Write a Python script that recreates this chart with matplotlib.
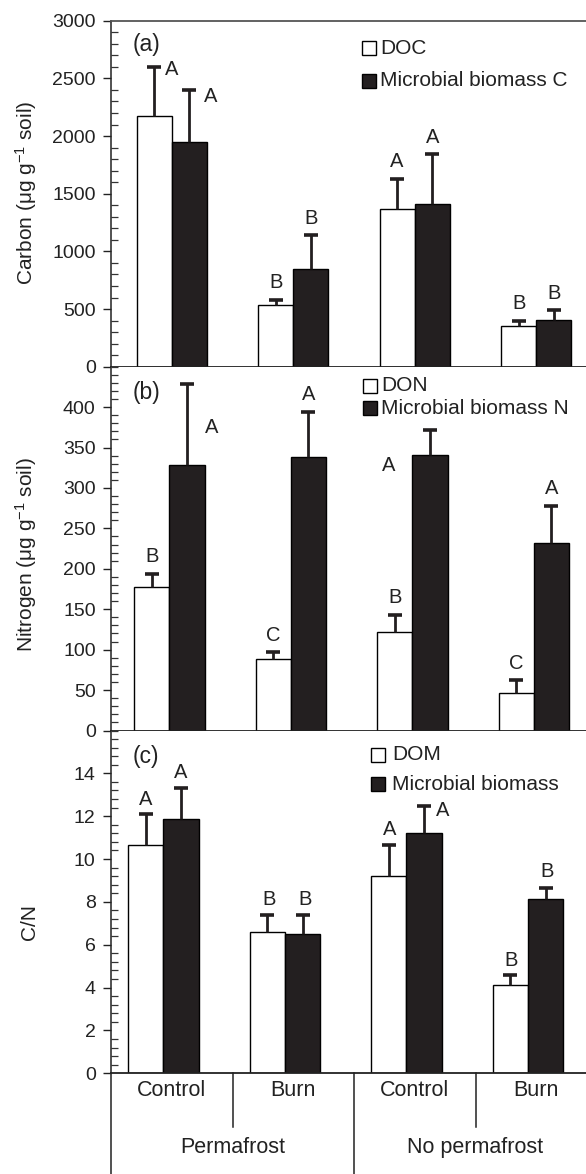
import matplotlib
matplotlib.use("Agg")
import matplotlib.pyplot as plt
import numpy as np
from matplotlib.ticker import MultipleLocator
import matplotlib.transforms as mtransforms

plt.rcParams['font.family'] = ['Liberation Sans', 'DejaVu Sans']
plt.rcParams['mathtext.fontset'] = 'custom'
plt.rcParams['mathtext.rm'] = 'Liberation Sans'
plt.rcParams['mathtext.it'] = 'Liberation Sans:italic'

# ---------------- data ----------------
treatments = ["Control", "Burn", "Control", "Burn"]
sites = ["Permafrost", "No permafrost"]

# (a) Carbon
doc = [2175, 535, 1365, 355]
doc_err_top = [2595, 580, 1630, 400]
mbc = [1950, 850, 1410, 405]
mbc_err_top = [2395, 1140, 1840, 488]
doc_letters = ["A", "B", "A", "B"]
mbc_letters = ["A", "B", "A", "B"]

# (b) Nitrogen
don = [178, 88, 122, 47]
don_err_top = [194, 97, 143, 62]
mbn = [328, 338, 341, 232]
mbn_err_top = [428, 394, 372, 278]
don_letters = ["B", "C", "B", "C"]
mbn_letters = ["A", "A", "A", "A"]

# (c) C/N
dom_cn = [10.65, 6.61, 9.2, 4.12]
dom_cn_err_top = [12.1, 7.38, 10.65, 4.57]
mb_cn = [11.85, 6.5, 11.22, 8.15]
mb_cn_err_top = [13.3, 7.38, 12.48, 8.65]
dom_letters = ["A", "B", "A", "B"]
mb_letters = ["A", "B", "A", "B"]

# ---------------- layout helpers ----------------
W, H = 586, 1174
fig = plt.figure(figsize=(W / 100, H / 100), dpi=100)

def fx(px):
    return px / W

def fy(py):
    return 1 - py / H

left_px, right_px = 111, 597
ax_a = fig.add_axes([fx(left_px), fy(366.7), fx(right_px - left_px), (366.7 - 20.7) / H])
ax_b = fig.add_axes([fx(left_px), fy(730.5), fx(right_px - left_px), (730.5 - 366.7) / H])
ax_c = fig.add_axes([fx(left_px), fy(1073.3), fx(right_px - left_px), (1073.3 - 730.5) / H])

DARK = "#231f20"
BW = 0.29
TICK_FS = 14
LET_FS = 14.5

x = np.arange(len(treatments)) + 0.5

def draw_panel(ax, v1, e1, v2, e2, l1, l2, shift, off1, off2):
    xs1 = x + shift - BW / 2
    xs2 = x + shift + BW / 2
    ax.bar(xs1, v1, width=BW, color="white", edgecolor="black", linewidth=1.0, zorder=2)
    ax.bar(xs2, v2, width=BW, color=DARK, edgecolor="black", linewidth=1.0, zorder=2)
    for xs, v, e in ((xs1, v1, e1), (xs2, v2, e2)):
        v = np.asarray(v, float)
        up = np.asarray(e, float) - v
        eb = ax.errorbar(xs, v, yerr=[np.zeros_like(up), up], fmt="none",
                         ecolor=DARK, elinewidth=2.0, capsize=5, capthick=2.6, zorder=3)
        caps = eb.lines[1]
        if len(caps) >= 2:
            caps[0].set_visible(False)
    for xs, e, labs, offs in ((xs1, e1, l1, off1), (xs2, e2, l2, off2)):
        for xi, ei, lab, (dx, dy) in zip(xs, e, labs, offs):
            ax.annotate(lab, xy=(xi, ei), xytext=(dx, dy), textcoords="offset pixels",
                        ha="center", va="center", fontsize=LET_FS, color="#222222")

std = (0, 17)
draw_panel(ax_a, doc, doc_err_top, mbc, mbc_err_top, doc_letters, mbc_letters, 0.0,
           [(18, -2), std, std, std], [(21, -6), std, std, std])
draw_panel(ax_b, don, don_err_top, mbn, mbn_err_top, don_letters, mbn_letters, -0.02,
           [std, std, std, std], [(25, -43), std, (-41, -36), std])
draw_panel(ax_c, dom_cn, dom_cn_err_top, mb_cn, mb_cn_err_top, dom_letters, mb_letters, -0.068,
           [(0, 15), (2, 16), (1, 16), (1, 15)], [(0, 16), (2, 16), (19, -5), (1, 16)])

# axes settings
for ax in (ax_a, ax_b, ax_c):
    ax.set_xlim(0, 4)
    ax.spines["right"].set_visible(False)
    ax.tick_params(axis="y", which="major", direction="out", length=6, width=1.0,
                   labelsize=TICK_FS, pad=5, colors="#222222")
    ax.tick_params(axis="y", which="minor", direction="in", length=5, width=0.9, colors="#333333")
    ax.spines["left"].set_color("#222222")
    ax.spines["bottom"].set_color("#222222")
    ax.spines["left"].set_linewidth(1.1)
    ax.spines["bottom"].set_linewidth(1.3)
    ax.set_xticks([1, 2, 3])
    ax.set_xticklabels([])

ax_a.spines["top"].set_color("#555555")
ax_a.spines["top"].set_linewidth(1.3)
ax_b.spines["top"].set_visible(False)
ax_c.spines["top"].set_visible(False)

ax_a.set_ylim(0, 3000)
ax_a.yaxis.set_major_locator(MultipleLocator(500))
ax_a.yaxis.set_minor_locator(MultipleLocator(100))
ax_a.tick_params(axis="x", direction="out", length=6, width=1.0, colors="#333333")

ax_b.set_ylim(0, 450)
ax_b.set_yticks(np.arange(0, 401, 50))
ax_b.yaxis.set_minor_locator(MultipleLocator(10))
ax_b.tick_params(axis="x", direction="out", length=8, width=1.0, colors="#333333")

ax_c.set_ylim(0, 16)
ax_c.set_yticks(np.arange(0, 15, 2))
ax_c.yaxis.set_minor_locator(MultipleLocator(0.4))
ax_c.tick_params(axis="x", length=0)

# category labels and separators under panel (c)
trans_c = mtransforms.blended_transform_factory(ax_c.transData, ax_c.transAxes)
for xi, lab in zip(x, treatments):
    ax_c.text(xi, -0.05, lab, transform=trans_c, ha="center", va="center",
              fontsize=15.5, color="#222222")
for xb, ybot in ((0, -0.30), (1, -0.157), (2, -0.30), (3, -0.157)):
    ax_c.plot([xb, xb], [0, ybot], transform=trans_c, color="#222222",
              linewidth=1.1, clip_on=False)
for xc, lab in zip((1, 3), sites):
    ax_c.text(xc, -0.215, lab, transform=trans_c, ha="center", va="center",
              fontsize=15.5, color="#222222")

# panel letters
for (px, py), lab in (((146, 45), "(a)"), ((146, 392), "(b)"), ((146, 757), "(c)")):
    fig.text(fx(px), fy(py), lab, ha="center", va="center", fontsize=16.5, color="#222222")

# legends (manual)
def legend(entries, mx, tx, rows):
    for (lab, fc), ry in zip(entries, rows):
        fig.lines.append(plt.Line2D([fx(mx)], [fy(ry)], marker="s", markersize=10,
                                    markerfacecolor=fc, markeredgecolor="black",
                                    markeredgewidth=1.0, linestyle="none",
                                    transform=fig.transFigure, figure=fig))
        fig.text(fx(tx), fy(ry), lab, ha="left", va="center", fontsize=15, color="#222222")

legend([("DOC", "white"), ("Microbial biomass C", DARK)], 369, 380, [48, 81])
legend([("DON", "white"), ("Microbial biomass N", DARK)], 370, 381, [386, 408])
legend([("DOM", "white"), ("Microbial biomass", DARK)], 378, 392, [755, 784])

# y labels
fig.text(fx(26), fy(193), "Carbon (μg g$^{-1}$ soil)", rotation=90, ha="center", va="center",
         fontsize=15, color="#222222")
fig.text(fx(26), fy(555), "Nitrogen (μg g$^{-1}$ soil)", rotation=90, ha="center", va="center",
         fontsize=15, color="#222222")
fig.text(fx(30), fy(922), "C/N", rotation=90, ha="center", va="center",
         fontsize=15, color="#222222")

fig.savefig("out.png", dpi=100)
